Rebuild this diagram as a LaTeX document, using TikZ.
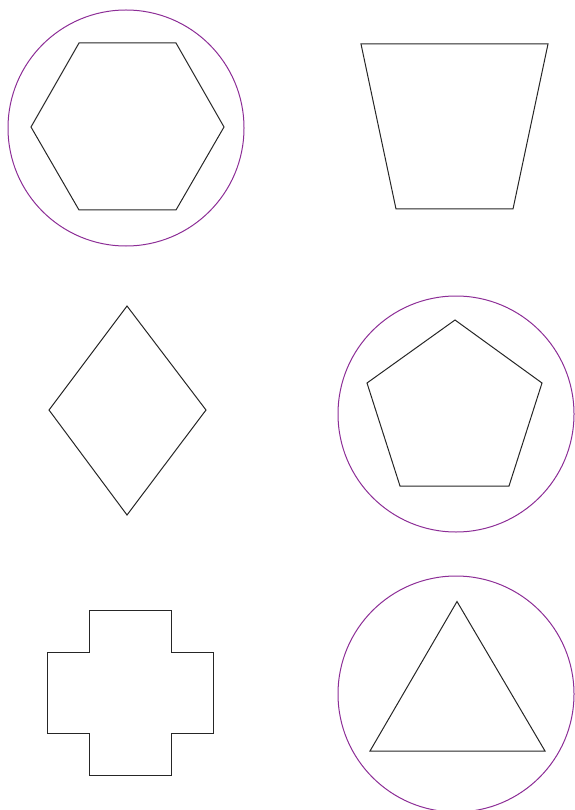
\documentclass[tikz,border=0pt]{standalone}
\definecolor{ringpurple}{RGB}{140,45,150}
\begin{document}
\begin{tikzpicture}[x=1pt,y=-1pt,
  outline/.style={draw=black!85,line width=1pt,line join=miter},
  ring/.style={draw=ringpurple,line width=1pt}]
\useasboundingbox (0,0) rectangle (574,810);
% top-left: hexagon in circle
\draw[ring] (126,128) circle (118);
\draw[outline] (79,43) -- (176,43) -- (224,127) -- (176,210) -- (79,210) -- (31,127) -- cycle;
% top-right: trapezoid
\draw[outline] (361,44) -- (548,44) -- (513,209) -- (396,209) -- cycle;
% middle-left: diamond
\draw[outline] (127,306) -- (206,410) -- (127,515) -- (49,410) -- cycle;
% middle-right: pentagon in circle
\draw[ring] (456,414) circle (118);
\draw[outline] (455,320) -- (542,383) -- (509,486) -- (400,486) -- (367,383) -- cycle;
% bottom-left: cross
\draw[outline] (89,610) -- (171,610) -- (171,652) -- (213,652) -- (213,733) -- (171,733) -- (171,775) -- (89,775) -- (89,733) -- (47,733) -- (47,652) -- (89,652) -- cycle;
% bottom-right: triangle in circle
\draw[ring] (456,694) circle (118);
\draw[outline] (457,601.5) -- (545,751) -- (370,751) -- cycle;
\end{tikzpicture}
\end{document}
